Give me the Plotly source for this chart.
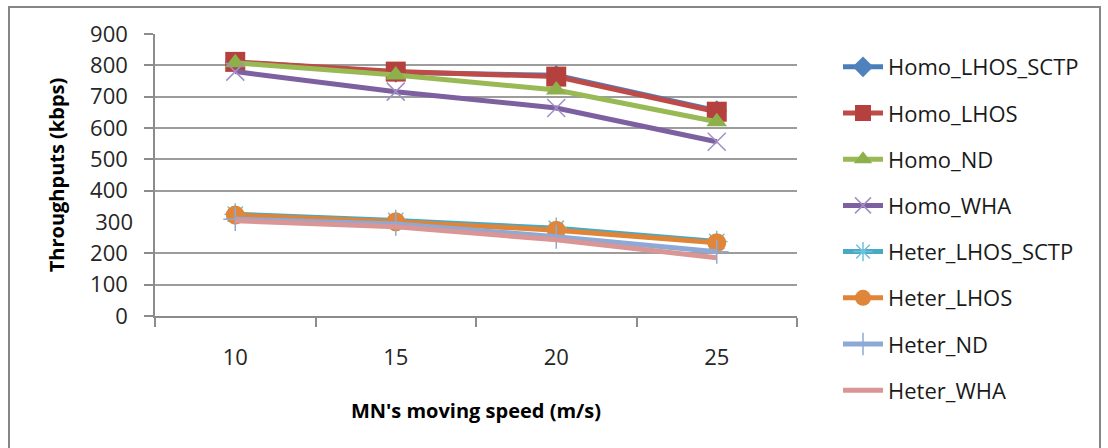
import plotly.graph_objects as go

speeds = ["10", "15", "20", "25"]
series_names = ["Homo_LHOS_SCTP", "Homo_LHOS", "Homo_ND", "Homo_WHA",
                "Heter_LHOS_SCTP", "Heter_LHOS", "Heter_ND", "Heter_WHA"]
homo_lhos_sctp = [810, 778, 768, 655]
homo_lhos = [811, 780, 764, 652]
homo_nd = [808, 769, 721, 620]
homo_wha = [780, 716, 664, 556]
heter_lhos_sctp = [325, 305, 280, 238]
heter_lhos = [322, 301, 274, 234]
heter_nd = [309, 294, 253, 205]
heter_wha = [304, 285, 243, 186]
y_ticks = [0, 100, 200, 300, 400, 500, 600, 700, 800, 900]

values = [homo_lhos_sctp, homo_lhos, homo_nd, homo_wha,
          heter_lhos_sctp, heter_lhos, heter_nd, heter_wha]
line_colors = ["#4A7EBB", "#BE4B48", "#98B954", "#7D60A0",
               "#46AAC5", "#E08437", "#8DA9D6", "#D99694"]
marker_styles = [
    dict(symbol="diamond", size=16, color="#4F81BD"),
    dict(symbol="square", size=20, color="#B5413E"),
    dict(symbol="triangle-up", size=18, color="#8DB04A"),
    dict(symbol="x-thin-open", size=18, color="#A18EC4", line=dict(width=1.5, color="#A18EC4")),
    dict(symbol="asterisk-open", size=18, color="#6FC2DA", line=dict(width=1.5, color="#6FC2DA")),
    dict(symbol="circle", size=19, color="#E0863A"),
    dict(symbol="cross-thin-open", size=17, color="#8DA9D6", line=dict(width=1.5, color="#8DA9D6")),
    None,
]

fig = go.Figure()
for i, (name, vals) in enumerate(zip(series_names, values)):
    mk = marker_styles[i]
    fig.add_trace(go.Scatter(
        x=speeds, y=vals, name=name,
        mode="lines+markers" if mk else "lines",
        line=dict(color=line_colors[i], width=5),
        marker=mk if mk else None,
        legendgroup=name,
    ))

font_family = "Open Sans"
grid_ticks = [v for v in y_ticks if v != 300]

fig.update_layout(
    width=1108, height=448,
    margin=dict(l=155, r=311, t=34, b=132),
    paper_bgcolor="white", plot_bgcolor="white",
    font=dict(family=font_family, size=22, color="#262626"),
    showlegend=True,
    legend=dict(
        xref="container", yref="container",
        x=838 / 1108, y=1 - 46 / 448, xanchor="left", yanchor="top",
        font=dict(family=font_family, size=22, color="#1a1a1a"),
        tracegroupgap=14.6, itemwidth=40, bgcolor="rgba(0,0,0,0)",
        maxheight=440,
    ),
    xaxis=dict(
        type="category", tickson="boundaries", range=[-0.5, 3.5],
        showline=True, linecolor="#8C8C8C", linewidth=1.5,
        ticks="outside", ticklen=9, tickcolor="#8C8C8C", tickwidth=1.5,
        ticklabelstandoff=21,
        showgrid=False, zeroline=False,
        tickfont=dict(size=22, color="#262626"),
        title=dict(text="<b>MN's moving speed (m/s)</b>", standoff=34,
                   font=dict(size=20, color="#000000")),
    ),
    yaxis=dict(
        range=[0, 900], tickvals=grid_ticks,
        showline=True, linecolor="#8C8C8C", linewidth=1.5,
        ticks="outside", ticklen=9, tickcolor="#8C8C8C", tickwidth=1.5,
        ticklabelstandoff=12,
        showgrid=True, gridcolor="#9C9C9C", gridwidth=1.5, zeroline=False,
        tickfont=dict(size=22, color="#262626"),
        title=dict(text="<b>Throughputs (kbps)</b>", standoff=20,
                   font=dict(size=20, color="#000000")),
    ),
    yaxis2=dict(
        range=[0, 900], overlaying="y", side="left",
        tickvals=[300], ticktext=["300"], ticks="", showline=False,
        showgrid=False, zeroline=False, ticklabelstandoff=21,
        tickfont=dict(size=22, color="#262626"),
    ),
)

# placeholder trace to make the overlay axis render (invisible, no legend)
fig.add_trace(go.Scatter(x=[speeds[0]], y=[y_ticks[3]], yaxis="y2", mode="markers",
                         marker=dict(opacity=0), showlegend=False, hoverinfo="skip"))

# outer chart border
fig.add_shape(type="rect", xref="paper", yref="paper",
              x0=(9 - 155) / 642, x1=(1100 - 155) / 642,
              y0=(316 - 452) / 282, y1=(316 - 7) / 282,
              line=dict(color="#868686", width=2), layer="below")

fig.write_html("out.html")
